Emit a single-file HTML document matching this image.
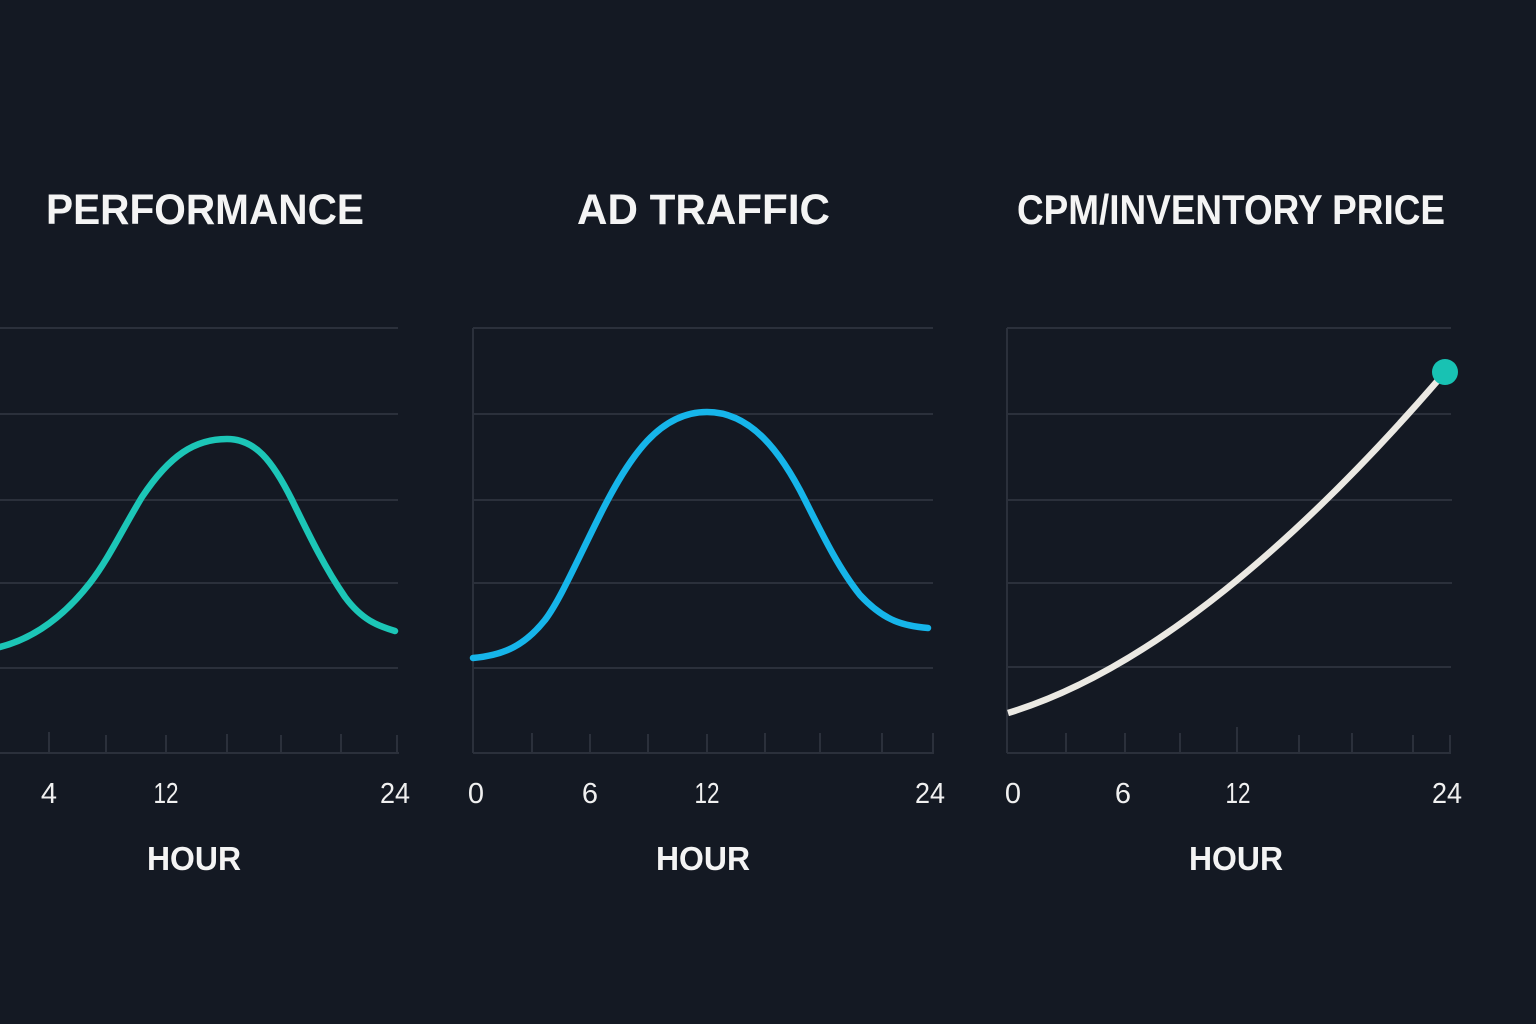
<!DOCTYPE html>
<html>
<head>
<meta charset="utf-8">
<style>
  html, body { margin:0; padding:0; background:#141923; }
  body { width:1536px; height:1024px; overflow:hidden; }
  svg { display:block; }
  .t { font-family:"Liberation Sans", sans-serif; font-weight:bold; fill:#f4f4f4; }
  .n { font-family:"Liberation Sans", sans-serif; fill:#f0f0f0; font-size:29px; }
  .h { font-family:"Liberation Sans", sans-serif; font-weight:bold; fill:#f4f4f4; font-size:33px; }
</style>
</head>
<body>
<svg width="1536" height="1024" viewBox="0 0 1536 1024" xmlns="http://www.w3.org/2000/svg">
  <rect width="1536" height="1024" fill="#141923"/>

  <!-- Titles -->
  <text class="t" x="46" y="224" font-size="43" textLength="318" lengthAdjust="spacingAndGlyphs">PERFORMANCE</text>
  <text class="t" x="577" y="224" font-size="43" textLength="253" lengthAdjust="spacingAndGlyphs">AD TRAFFIC</text>
  <text class="t" x="1017" y="224" font-size="42" textLength="428" lengthAdjust="spacingAndGlyphs">CPM/INVENTORY PRICE</text>

  <!-- Gridlines -->
  <g stroke="#2b303b" stroke-width="2" fill="none">
    <!-- chart 1 -->
    <line x1="0" y1="328" x2="398" y2="328"/>
    <line x1="0" y1="414" x2="398" y2="414"/>
    <line x1="0" y1="500" x2="398" y2="500"/>
    <line x1="0" y1="583" x2="398" y2="583"/>
    <line x1="0" y1="668" x2="398" y2="668"/>
    <line x1="0" y1="753" x2="399" y2="753"/>
    <!-- chart 2 -->
    <line x1="473" y1="328" x2="933" y2="328"/>
    <line x1="473" y1="414" x2="933" y2="414"/>
    <line x1="473" y1="500" x2="933" y2="500"/>
    <line x1="473" y1="583" x2="933" y2="583"/>
    <line x1="473" y1="668" x2="933" y2="668"/>
    <line x1="473" y1="753" x2="934" y2="753"/>
    <line x1="473" y1="328" x2="473" y2="753"/>
    <!-- chart 3 -->
    <line x1="1007" y1="328" x2="1451" y2="328"/>
    <line x1="1007" y1="414" x2="1451" y2="414"/>
    <line x1="1007" y1="500" x2="1452" y2="500"/>
    <line x1="1007" y1="583" x2="1452" y2="583"/>
    <line x1="1007" y1="667" x2="1451" y2="667"/>
    <line x1="1007" y1="753" x2="1451" y2="753"/>
    <line x1="1007" y1="328" x2="1007" y2="753"/>
  </g>

  <!-- Ticks -->
  <g stroke="#2b303b" stroke-width="2">
    <line x1="49" y1="732" x2="49" y2="753"/>
    <line x1="106" y1="735" x2="106" y2="753"/>
    <line x1="166" y1="735" x2="166" y2="753"/>
    <line x1="227" y1="734" x2="227" y2="753"/>
    <line x1="281" y1="735" x2="281" y2="753"/>
    <line x1="341" y1="734" x2="341" y2="753"/>
    <line x1="397" y1="735" x2="397" y2="753"/>

    <line x1="532" y1="733" x2="532" y2="753"/>
    <line x1="590" y1="734" x2="590" y2="753"/>
    <line x1="648" y1="734" x2="648" y2="753"/>
    <line x1="707" y1="734" x2="707" y2="753"/>
    <line x1="765" y1="733" x2="765" y2="753"/>
    <line x1="820" y1="733" x2="820" y2="753"/>
    <line x1="882" y1="733" x2="882" y2="753"/>
    <line x1="933" y1="733" x2="933" y2="753"/>

    <line x1="1066" y1="733" x2="1066" y2="753"/>
    <line x1="1125" y1="733" x2="1125" y2="753"/>
    <line x1="1180" y1="733" x2="1180" y2="753"/>
    <line x1="1237" y1="727" x2="1237" y2="753"/>
    <line x1="1299" y1="735" x2="1299" y2="753"/>
    <line x1="1352" y1="733" x2="1352" y2="753"/>
    <line x1="1413" y1="735" x2="1413" y2="753"/>
    <line x1="1450" y1="735" x2="1450" y2="753"/>
  </g>

  <!-- Curves -->
  <path d="M0,647 C35,638 65,615 90,583 C108,560 122,530 142,497 C170,455 195,439 227,439 C255,439 272,460 292,500 C310,537 325,568 345,597 C362,620 378,626 395,631"
        fill="none" stroke="#1cc6b7" stroke-width="6.5" stroke-linecap="round"/>
  <path d="M473,658 C505,655 525,645 545,620 C560,600 575,565 600,515 C630,455 660,412 707,412 C750,412 780,450 805,500 C825,540 840,570 860,595 C885,622 905,626 928,628"
        fill="none" stroke="#16b5ea" stroke-width="6.5" stroke-linecap="round"/>
  <path d="M1008,713 C1150,670 1300,540 1440,378"
        fill="none" stroke="#ebe9e3" stroke-width="6.5" stroke-linecap="butt"/>
  <circle cx="1445" cy="372" r="13" fill="#18c2b3"/>

  <!-- Tick labels -->
  <text class="n" x="49" y="803" text-anchor="middle">4</text>
  <text class="n" x="166" y="803" text-anchor="middle" textLength="25" lengthAdjust="spacingAndGlyphs">12</text>
  <text class="n" x="395" y="803" text-anchor="middle" textLength="30" lengthAdjust="spacingAndGlyphs">24</text>

  <text class="n" x="476" y="803" text-anchor="middle">0</text>
  <text class="n" x="590" y="803" text-anchor="middle">6</text>
  <text class="n" x="707" y="803" text-anchor="middle" textLength="25" lengthAdjust="spacingAndGlyphs">12</text>
  <text class="n" x="930" y="803" text-anchor="middle" textLength="30" lengthAdjust="spacingAndGlyphs">24</text>

  <text class="n" x="1013" y="803" text-anchor="middle">0</text>
  <text class="n" x="1123" y="803" text-anchor="middle">6</text>
  <text class="n" x="1238" y="803" text-anchor="middle" textLength="25" lengthAdjust="spacingAndGlyphs">12</text>
  <text class="n" x="1447" y="803" text-anchor="middle" textLength="30" lengthAdjust="spacingAndGlyphs">24</text>

  <!-- Axis titles -->
  <text class="h" x="147" y="870" textLength="94" lengthAdjust="spacingAndGlyphs">HOUR</text>
  <text class="h" x="656" y="870" textLength="94" lengthAdjust="spacingAndGlyphs">HOUR</text>
  <text class="h" x="1189" y="870" textLength="94" lengthAdjust="spacingAndGlyphs">HOUR</text>
</svg>
</body>
</html>
